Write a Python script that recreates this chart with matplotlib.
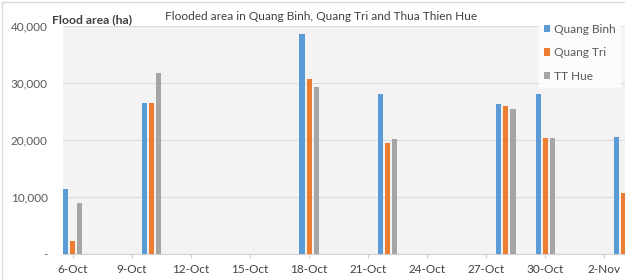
import numpy as np
import pandas as pd
import matplotlib.pyplot as plt
import matplotlib.dates as mdates
from matplotlib.patches import Rectangle

plt.rcParams['font.family'] = ['Lato', 'DejaVu Sans']

dates = pd.to_datetime(['2020-10-06', '2020-10-10', '2020-10-18', '2020-10-22',
                        '2020-10-28', '2020-10-30', '2020-11-03'])
quang_binh = [11400, 26500, 38600, 28100, 26300, 28100, 20500]
quang_tri = [2300, 26500, 30700, 19500, 26000, 20300, 10700]
tt_hue = [8900, 31700, 29300, 20200, 25500, 20300, np.nan]
series = ['Quang Binh', 'Quang Tri', 'TT Hue']
colors = ['#5B9BD5', '#ED7D31', '#A5A5A5']

tick_dates = pd.date_range('2020-10-06', '2020-11-02', freq='3D')
tick_labels = ['6-Oct', '9-Oct', '12-Oct', '15-Oct', '18-Oct', '21-Oct',
               '24-Oct', '27-Oct', '30-Oct', '2-Nov']

fig = plt.figure(figsize=(6.25, 2.8), dpi=100)
ax = fig.add_axes([63 / 625, 26 / 280, 562 / 625, 228 / 280])
ax.set_facecolor('#f3f3f3')

x = mdates.date2num(dates)
for i, (vals, name, col) in enumerate(zip([quang_binh, quang_tri, tt_hue], series, colors)):
    ax.bar(x + (i - 1) * 0.36, vals, width=0.26, color=col, label=name, zorder=3)

ax.set_ylim(0, 40000)
ax.set_yticks([0, 10000, 20000, 30000, 40000])
ax.set_yticklabels(['-', '10,000', '20,000', '30,000', '40,000'])
ax.set_xlim(mdates.date2num(pd.Timestamp('2020-10-06')) - 0.5,
            mdates.date2num(pd.Timestamp('2020-11-03')) + 0.05)
ax.set_xticks(mdates.date2num(tick_dates))
ax.set_xticklabels(tick_labels)

ax.grid(axis='y', color='#dcdcdc', linewidth=0.8, zorder=0)
for s in ['top', 'right', 'left']:
    ax.spines[s].set_visible(False)
ax.spines['bottom'].set_color('#d0d0d0')
ax.tick_params(axis='y', length=0, labelsize=8.5, colors='#595959', pad=11)
ax.tick_params(axis='x', length=3, color='#d0d0d0', labelsize=8.5, colors='#404040', pad=4)

fig.text(321 / 625, 1 - 17 / 280, 'Flooded area in Quang Binh, Quang Tri and Thua Thien Hue',
         ha='center', va='center', fontsize=8.6, color='#404040')
fig.text(52 / 625, 1 - 20 / 280, 'Flood area (ha)', ha='left', va='center',
         fontsize=8.8, fontweight='bold', color='#404040')

leg = fig.legend(loc='upper left', bbox_to_anchor=(533 / 625, 1 - 13 / 280),
                 frameon=True, fancybox=False, fontsize=8.6, handlelength=0.55,
                 handleheight=0.55, handletextpad=0.3, labelspacing=1.05,
                 borderpad=0.4)
leg.get_frame().set_facecolor('white')
leg.get_frame().set_edgecolor('white')
for t in leg.get_texts():
    t.set_color('#595959')

fig.patches.append(Rectangle((2 / 625, -0.1), 1.1, 1.1 - 2 / 280, transform=fig.transFigure,
                             fill=False, edgecolor='#d9d9d9', linewidth=1))

fig.savefig('out.png', dpi=100)
